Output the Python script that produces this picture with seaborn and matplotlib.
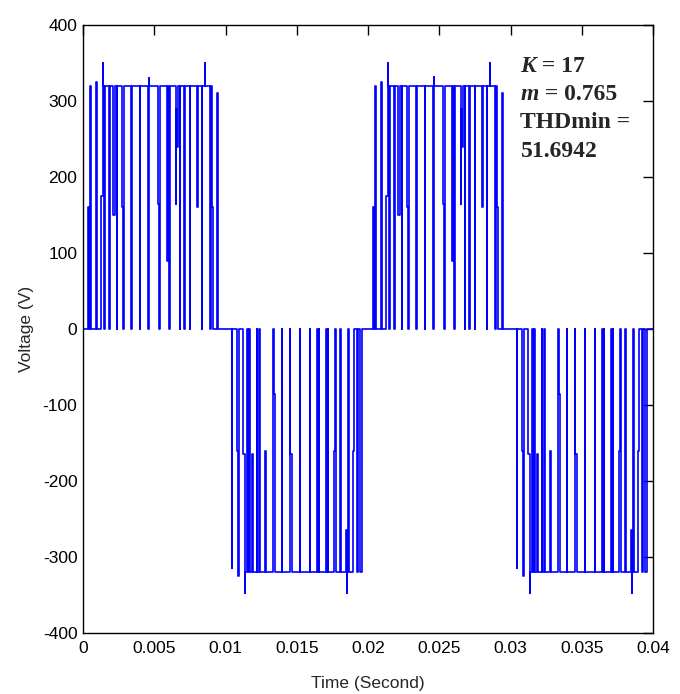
import matplotlib
matplotlib.use("Agg")
import matplotlib.pyplot as plt
import seaborn as sns
import pandas as pd

# ---- data (time in ms, voltage in V, step-wise levels) ----
pos1_t = [0.00, 0.37, 0.42, 0.49, 0.53, 0.91, 1.00, 1.26, 1.38, 1.40, 1.49, 1.53, 1.85, 1.88,
          2.13, 2.25, 2.36, 2.40, 2.71, 2.83, 2.86, 3.40, 3.46, 4.00, 4.02, 4.59, 4.62, 4.64,
          5.29, 5.36, 5.39, 5.92, 5.95, 6.06, 6.09, 6.50, 6.56, 6.62, 6.66, 6.81, 6.84, 7.09,
          7.18, 7.51, 7.54, 7.98, 8.09, 8.33, 8.36, 8.56, 8.58, 8.91, 8.95, 9.03, 9.10, 9.38, 9.50]
pos1_v = [0, 160, 0, 320, 0, 325, 0, 175, 350, 320, 0, 320, 0, 320,
          150, 320, 0, 320, 160, 0, 320, 0, 320, 0, 320, 0, 330, 320,
          165, 0, 320, 90, 320, 0, 320, 165, 290, 240, 320, 0, 320, 0,
          320, 0, 320, 160, 320, 0, 320, 350, 320, 0, 320, 160, 0, 310, 0]

neg1_t = [10.00, 10.43, 10.47, 10.78, 10.88, 10.97, 11.25, 11.37, 11.39, 11.53, 11.56, 11.67,
          11.70, 11.84, 11.95, 12.19, 12.24, 12.38, 12.42, 12.77, 12.82, 13.30, 13.36, 13.40,
          13.46, 13.94, 13.97, 14.50, 14.53, 14.64, 15.23, 15.26, 15.93, 15.96, 16.45, 16.50,
          16.55, 16.59, 17.06, 17.12, 17.17, 17.22, 17.62, 17.66, 17.76, 18.04, 18.08, 18.45,
          18.50, 18.52, 18.62, 18.66, 18.70, 18.97, 19.02, 19.21, 19.30, 19.45, 19.56]
neg1_v = [0, -315, 0, -160, -325, 0, -165, -348, -320, 0, -320, 0,
          -320, -165, -320, 0, -320, 0, -320, -160, -320, -240, 0, -85,
          -320, 0, -320, 0, -165, -320, 0, -320, 0, -320, 0, -320,
          0, -320, 0, -320, 0, -320, -160, 0, -320, 0, -320, -265,
          -348, -320, 0, -85, -320, -160, 0, -320, 0, -320, 0]

pos2_t = [20.00, 20.37, 20.42, 20.49, 20.53, 20.91, 21.00, 21.26, 21.38, 21.40, 21.49, 21.53,
          21.85, 21.88, 22.13, 22.25, 22.36, 22.40, 22.71, 22.83, 22.86, 23.40, 23.46, 24.00,
          24.02, 24.59, 24.62, 24.64, 25.29, 25.36, 25.39, 25.92, 25.95, 26.06, 26.09, 26.50,
          26.56, 26.62, 26.66, 26.81, 26.84, 27.09, 27.18, 27.51, 27.54, 27.98, 28.09, 28.33,
          28.36, 28.56, 28.58, 28.91, 28.95, 29.03, 29.10, 29.38, 29.50]
pos2_v = [0, 160, 0, 320, 0, 325, 0, 175, 350, 320, 0, 320,
          0, 320, 150, 320, 0, 320, 160, 0, 320, 0, 320, 0,
          320, 0, 332, 320, 165, 0, 320, 90, 320, 0, 320, 165,
          290, 240, 320, 0, 320, 0, 320, 0, 320, 160, 320, 0,
          320, 350, 320, 0, 320, 160, 0, 310, 0]

neg2_t = [30.00, 30.43, 30.47, 30.78, 30.88, 30.97, 31.25, 31.37, 31.39, 31.53, 31.56, 31.67,
          31.70, 31.84, 31.95, 32.19, 32.24, 32.38, 32.42, 32.77, 32.82, 33.30, 33.36, 33.40,
          33.46, 33.94, 33.97, 34.50, 34.53, 34.64, 35.23, 35.26, 35.93, 35.96, 36.45, 36.50,
          36.55, 36.59, 37.06, 37.12, 37.17, 37.22, 37.62, 37.66, 37.76, 38.04, 38.08, 38.45,
          38.50, 38.52, 38.62, 38.66, 38.70, 38.97, 39.02, 39.21, 39.30, 39.45, 39.56, 40.00]
neg2_v = [0, -315, 0, -160, -325, 0, -165, -348, -320, 0, -320, 0,
          -320, -165, -320, 0, -320, 0, -320, -160, -320, -240, 0, -85,
          -320, 0, -320, 0, -165, -320, 0, -320, 0, -320, 0, -320,
          0, -320, 0, -320, 0, -320, -160, 0, -320, 0, -320, -265,
          -348, -320, 0, -85, -320, -160, 0, -320, 0, -320, 0, 0]

x_ticks = [0, 0.005, 0.01, 0.015, 0.02, 0.025, 0.03, 0.035, 0.04]
x_ticklabels = ["0", "0.005", "0.01", "0.015", "0.02", "0.025", "0.03", "0.035", "0.04"]
y_ticks = [-400, -300, -200, -100, 0, 100, 200, 300, 400]
y_ticklabels = ["-400", "-300", "-200", "-100", "0", "100", "200", "300", "400"]
info_lines = [("K", " = 17"), ("m", " = 0.765"), ("", "THDmin ="), ("", "51.6942")]

# ---- build table ----
t_ms = pos1_t + neg1_t + pos2_t + neg2_t
volts = pos1_v + neg1_v + pos2_v + neg2_v
df = pd.DataFrame({"Time (Second)": [t / 1000.0 for t in t_ms], "Voltage (V)": volts})

sns.set_theme(style="white")
plt.rcParams["font.family"] = ["Liberation Sans", "DejaVu Sans"]
tick_size = 12.5

fig = plt.figure(figsize=(6.8, 6.94), dpi=100)
ax = fig.add_axes([83 / 680, (694 - 633) / 694, 570 / 680, 608 / 694])

sns.lineplot(data=df, x="Time (Second)", y="Voltage (V)", ax=ax, estimator=None,
             sort=False, drawstyle="steps-post", color="#0000FF", linewidth=1.2)

ax.set_xlim(0, 0.04)
ax.set_ylim(-400, 400)
ax.set_xticks(x_ticks)
ax.set_xticklabels(x_ticklabels)
ax.set_yticks(y_ticks)
ax.set_yticklabels(y_ticklabels)
ax.tick_params(direction="in", length=7, width=1, top=True, right=True,
               colors="black", labelsize=tick_size)
ax.tick_params(axis="x", pad=6)
ax.tick_params(axis="y", pad=4)
for s in ax.spines.values():
    s.set_color("black")
    s.set_linewidth(1)
ax.set_xlabel("Time (Second)", fontsize=tick_size, labelpad=14)
ax.set_ylabel("Voltage (V)", fontsize=tick_size, labelpad=6)
ax.grid(False)

# ---- annotation text ----
renderer = fig.canvas.get_renderer()
x0 = 520.5 / 680
baselines = [71.7, 100.0, 128.3, 156.7]
for (ital, rest), yb in zip(info_lines, baselines):
    yf = 1 - yb / 694
    x = x0
    if ital:
        t1 = fig.text(x, yf, ital, fontsize=17, fontweight="bold", fontstyle="italic",
                      family="Liberation Serif", va="baseline", ha="left")
        bb = t1.get_window_extent(renderer)
        x = bb.x1 / fig.bbox.width
    fig.text(x, yf, rest, fontsize=17, fontweight="bold", family="Liberation Serif",
             va="baseline", ha="left")

fig.savefig("out.png", dpi=100)
